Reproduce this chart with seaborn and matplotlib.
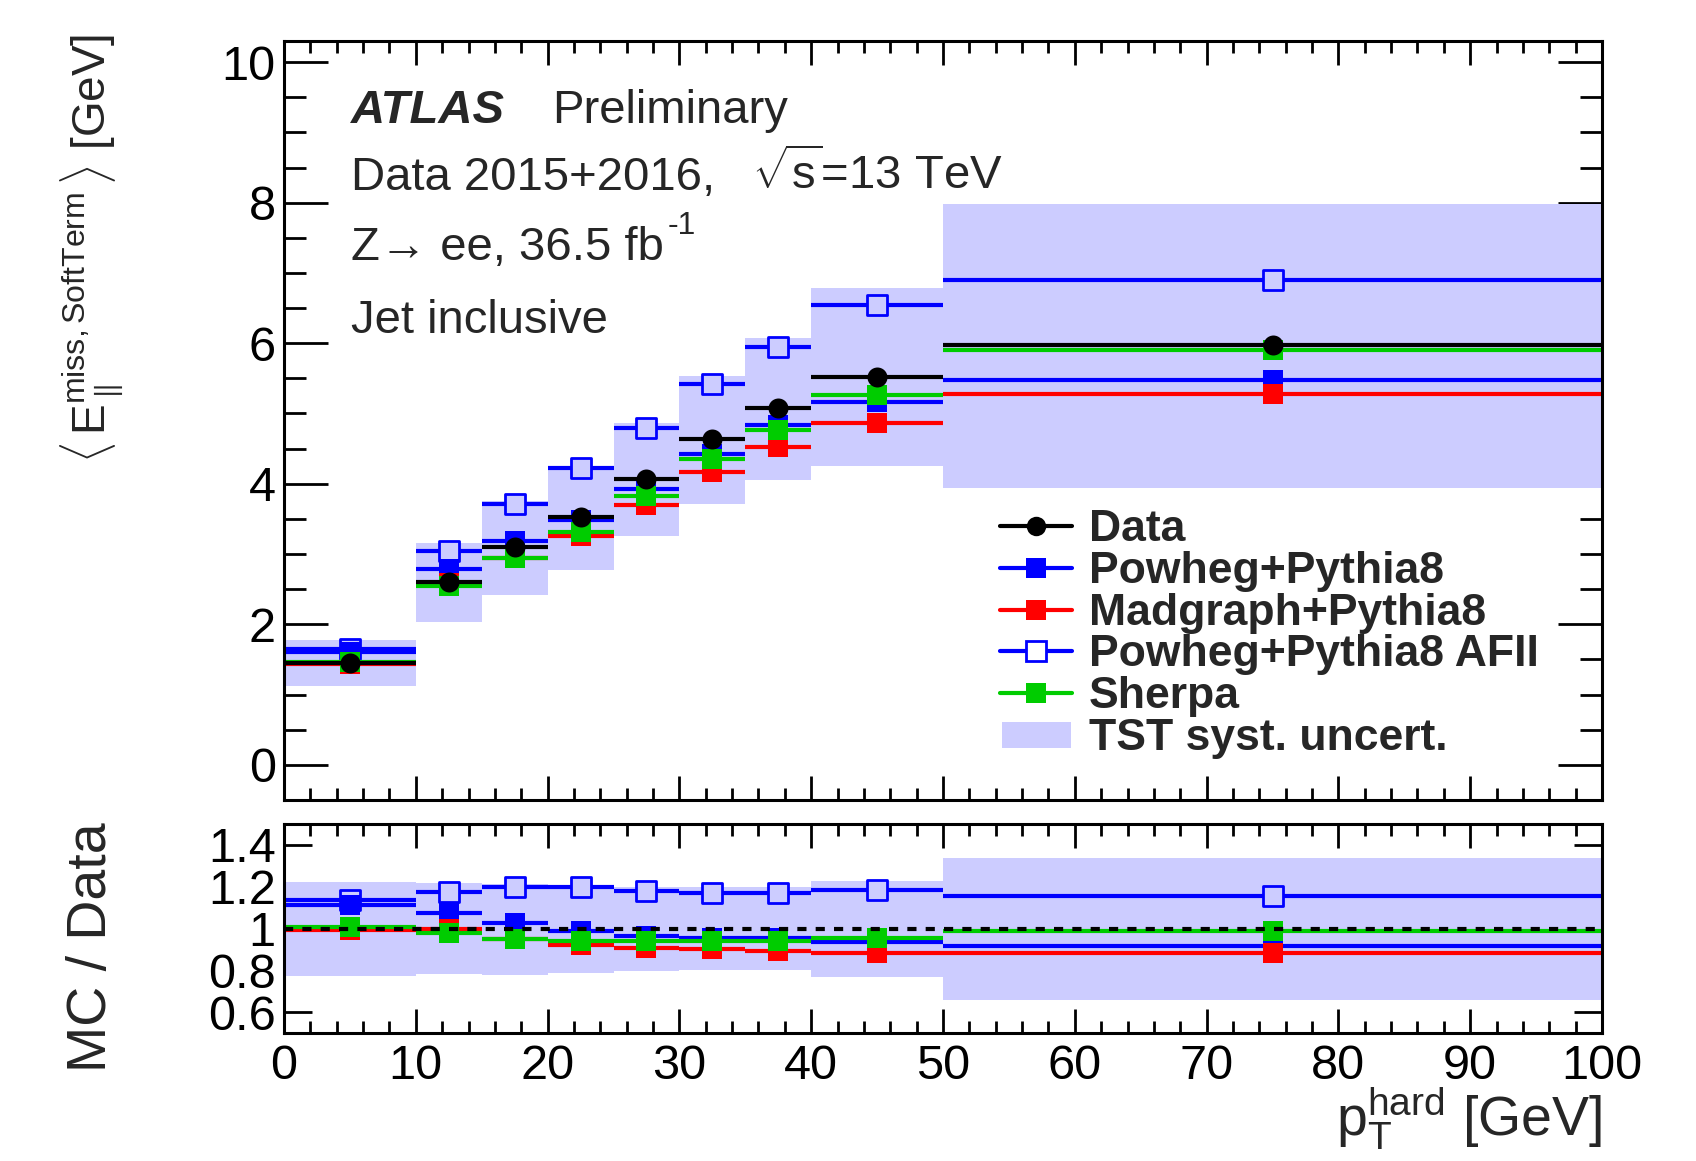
import numpy as np
import matplotlib
matplotlib.use("Agg")
import matplotlib.pyplot as plt
from matplotlib.lines import Line2D
from matplotlib.patches import Rectangle
import seaborn as sns

# bins in pT hard [GeV]
edges = [0, 10, 15, 20, 25, 30, 35, 40, 50, 100]

# <E_par^{miss,SoftTerm}> per bin [GeV]
data_val = [1.45, 2.60, 3.10, 3.52, 4.07, 4.63, 5.08, 5.52, 5.97]
powheg_val = [1.61, 2.79, 3.18, 3.48, 3.93, 4.43, 4.84, 5.16, 5.48]
madgraph_val = [1.44, 2.59, 2.95, 3.25, 3.70, 4.17, 4.53, 4.86, 5.28]
afii_val = [1.65, 3.05, 3.71, 4.22, 4.80, 5.42, 5.94, 6.55, 6.90]
sherpa_val = [1.46, 2.54, 2.95, 3.31, 3.82, 4.35, 4.77, 5.26, 5.91]

# TST syst. band (low / high edges)
band_lo = [1.12, 2.03, 2.41, 2.77, 3.25, 3.71, 4.06, 4.25, 3.94]
band_hi = [1.77, 3.16, 3.76, 4.25, 4.87, 5.54, 6.08, 6.78, 7.98]

ratio_ticks = [0.6, 0.8, 1.0, 1.2, 1.4]
ratio_ticklabels = ["0.6", "0.8", "1", "1.2", "1.4"]

BAND = "#ccccff"
BLUE = "#0000ff"
RED = "#ff0000"
GREEN = "#00cc00"

sns.set_style("ticks")
plt.rcParams["font.family"] = ["Liberation Sans", "DejaVu Sans"]
plt.rcParams["mathtext.fontset"] = "custom"
plt.rcParams["mathtext.rm"] = "Liberation Sans"
plt.rcParams["mathtext.it"] = "Liberation Sans:italic"
plt.rcParams["mathtext.bf"] = "Liberation Sans:bold"

W, H = 1696, 1161
fig = plt.figure(figsize=(W / 100, H / 100), dpi=100)


def fx(px):
    return px / W


def fy(py):
    return 1 - py / H


ax = fig.add_axes([fx(284), fy(800), fx(1602) - fx(284), fy(41) - fy(800)])
rax = fig.add_axes([fx(284), fy(1033), fx(1602) - fx(284), fy(824) - fy(1033)])

e = np.array(edges, dtype=float)
lo_e, hi_e = e[:-1], e[1:]
centers = 0.5 * (lo_e + hi_e)
widths = hi_e - lo_e
data = np.array(data_val)


def draw_series(a, vals, color, marker, z, hollow=False):
    a.hlines(vals, lo_e, hi_e, colors=color, linewidth=3, zorder=z)
    sns.scatterplot(x=centers, y=vals, marker=marker, s=207, color=color,
                    linewidth=0, ax=a, zorder=z + 0.5, legend=False)
    if hollow:
        pts = a.collections[-1]
        pts.set_facecolor(BAND)
        pts.set_edgecolor(color)
        pts.set_linewidth(2)


# main panel
blo, bhi = np.array(band_lo), np.array(band_hi)
ax.bar(centers, bhi - blo, width=widths, bottom=blo, color=BAND, linewidth=0, zorder=1)
draw_series(ax, afii_val, BLUE, "s", 2, hollow=True)
draw_series(ax, powheg_val, BLUE, "s", 3)
draw_series(ax, madgraph_val, RED, "s", 4)
draw_series(ax, sherpa_val, GREEN, "s", 5)
draw_series(ax, data_val, "black", "o", 6)

# ratio panel
rax.bar(centers, (bhi - blo) / data, width=widths, bottom=blo / data, color=BAND,
        linewidth=0, zorder=1)
draw_series(rax, np.array(afii_val) / data, BLUE, "s", 2, hollow=True)
draw_series(rax, np.array(powheg_val) / data, BLUE, "s", 3)
draw_series(rax, np.array(madgraph_val) / data, RED, "s", 4)
draw_series(rax, np.array(sherpa_val) / data, GREEN, "s", 5)
rax.axhline(1.0, color="black", linestyle=(0, (2.2, 2.2)), linewidth=3, zorder=10)

# axes styling
for a in (ax, rax):
    a.set_xlim(0, 100)
    a.set_xticks(np.arange(0, 101, 10))
    a.set_xticks(np.arange(0, 101, 2), minor=True)
    for s in a.spines.values():
        s.set_color("black")
        s.set_linewidth(2.2)
        s.set_zorder(20)
    a.set_xlabel("")
    a.set_ylabel("")

ax.set_ylim(-0.5, 10.3)
ax.set_yticks(np.arange(0, 11, 2))
ax.set_yticks(np.arange(-0.5, 10.3, 0.5), minor=True)
ax.tick_params(axis="both", which="both", direction="in", top=True, right=True,
               labelbottom=False, width=2, colors="black", labelsize=35, pad=6)
ax.tick_params(axis="y", which="major", length=32)
ax.tick_params(axis="y", which="minor", length=16)
ax.tick_params(axis="x", which="major", length=17)
ax.tick_params(axis="x", which="minor", length=8.5)

rax.set_ylim(0.5, 1.5)
rax.set_yticks(ratio_ticks)
rax.set_yticklabels(ratio_ticklabels)
rax.tick_params(axis="both", which="both", direction="in", top=True, right=True,
                width=2, colors="black", labelsize=35)
rax.tick_params(axis="y", which="major", length=20, pad=6)
rax.tick_params(axis="x", which="major", length=17, pad=8)
rax.tick_params(axis="x", which="minor", length=8.5)

# axis titles
fig.text(fx(92), fy(34),
         r"$\langle\, \mathrm{E}_{\parallel}^{\mathrm{miss,SoftTerm}}\, \rangle$ [GeV]",
         rotation=90, ha="center", va="top", fontsize=33)
fig.text(fx(92), fy(822), "MC / Data", rotation=90, ha="center", va="top", fontsize=40)
fig.text(fx(1602), fy(1136), r"$\mathrm{p}_{\mathrm{T}}^{\mathrm{hard}}$ [GeV]",
         ha="right", va="baseline", fontsize=40)

# labels
fig.text(fx(351), fy(123), "ATLAS", fontsize=34, fontweight="bold", fontstyle="italic",
         va="baseline")
fig.text(fx(552), fy(123), "Preliminary", fontsize=34, va="baseline")
fig.text(fx(351), fy(190), "Data 2015+2016,", fontsize=34, va="baseline")
fig.text(fx(752), fy(190), r"$\sqrt{\mathrm{s}}$=13 TeV", fontsize=34, va="baseline")
fig.text(fx(351), fy(260), "Z\u2192 ee, 36.5 fb", fontsize=34, va="baseline")
fig.text(fx(668), fy(234), "-1", fontsize=23, va="baseline")
fig.text(fx(351), fy(333), "Jet inclusive", fontsize=34, va="baseline")

# legend, drawn by hand in figure pixels
leg_labels = ["Data", "Powheg+Pythia8", "Madgraph+Pythia8", "Powheg+Pythia8 AFII",
              "Sherpa", "TST syst. uncert."]
leg_style = [("black", "o", "black"), (BLUE, "s", BLUE), (RED, "s", RED),
             (BLUE, "s", "white"), (GREEN, "s", GREEN), None]
for i, (lab, sty) in enumerate(zip(leg_labels, leg_style)):
    yc = 526 + 41.8 * i
    if sty is None:
        fig.patches.append(Rectangle((fx(1002), fy(yc + 13)), fx(1071) - fx(1002),
                                     fy(yc - 13) - fy(yc + 13), transform=fig.transFigure,
                                     facecolor=BAND, edgecolor="none"))
    else:
        col, mk, face = sty
        fig.add_artist(Line2D([fx(1000), fx(1072)], [fy(yc), fy(yc)], color=col,
                              linewidth=3, transform=fig.transFigure))
        fig.add_artist(Line2D([fx(1036)], [fy(yc)], marker=mk, markersize=14,
                              markerfacecolor=face, markeredgecolor=col,
                              markeredgewidth=2 if face == "white" else 0,
                              linestyle="none", transform=fig.transFigure))
    fig.text(fx(1089), fy(yc + 15), lab, fontsize=32, fontweight="bold", va="baseline")

fig.savefig("out.png", dpi=100)
